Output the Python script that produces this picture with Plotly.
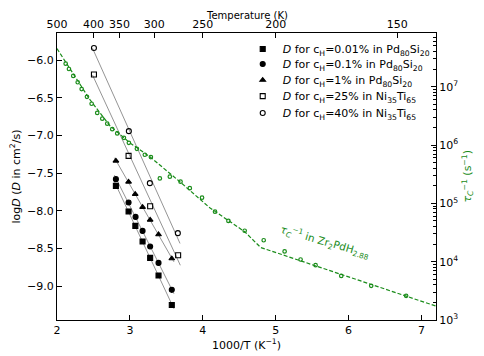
import math
import numpy as np
import plotly.graph_objects as go

# 1000/T (K^-1) and log10(D / cm^2 s^-1) for the diffusion data
x_001 = [2.808, 2.982, 3.075, 3.174, 3.278, 3.393, 3.575]
d_001 = [-7.669, -8.009, -8.201, -8.408, -8.625, -8.859, -9.250]
x_01 = [2.808, 2.982, 3.078, 3.174, 3.278, 3.393, 3.575]
d_01 = [-7.580, -7.890, -8.081, -8.267, -8.474, -8.692, -9.050]
x_1 = [2.808, 2.982, 3.073, 3.174, 3.278, 3.393, 3.575]
d_1 = [-7.337, -7.616, -7.779, -7.952, -8.121, -8.315, -8.634]
x_25 = [2.507, 2.982, 3.278, 3.662]
d_25 = [-6.19, -7.271, -7.939, -8.590]
x_40 = [2.507, 2.986, 3.274, 3.658]
d_40 = [-5.84, -6.943, -7.633, -8.297]

# tau_c^-1 (s^-1) in Zr2PdH2.88
x_tau = [2.119, 2.164, 2.223, 2.284, 2.338, 2.411, 2.475, 2.552, 2.621, 2.689,
         2.758, 2.826, 2.918, 2.986, 3.096, 3.205, 3.288, 3.411, 3.548, 3.695,
         3.822, 3.990, 4.168, 4.352, 4.575, 4.836, 5.123, 5.342, 5.548, 5.900,
         6.311, 6.790]
tau = [2.48e7, 2.01e7, 1.53e7, 1.19e7, 9.1e6, 6.7e6, 5.1e6, 3.54e6, 2.83e6, 2.32e6,
       1.87e6, 1.58e6, 1.33e6, 1.09e6, 8.6e5, 6.8e5, 6.2e5, 2.67e5, 2.86e5, 2.35e5,
       1.82e5, 1.25e5, 7.2e4, 5.0e4, 3.39e4, 2.33e4, 1.50e4, 1.09e4, 8.7e3, 5.7e3,
       3.86e3, 2.6e3]
# dashed guide through tau data
x_tau_fit = [2.0, 2.178, 2.452, 2.726, 3.0, 3.274, 3.685, 4.096, 4.575, 4.795, 7.2]
tau_fit = [4.49e7, 2.04e7, 5.98e6, 2.14e6, 1.09e6, 6.3e5, 2.35e5, 8.4e4, 3.26e4, 1.75e4, 1.73e3]

temps = [500, 400, 350, 300, 250, 200, 150]
right_ticks = [1e3, 1e4, 1e5, 1e6, 1e7]

series = [
    (x_001, d_001, "square", "0.01%", "Pd<sub>80</sub>Si<sub>20</sub>"),
    (x_01, d_01, "circle", "0.1%", "Pd<sub>80</sub>Si<sub>20</sub>"),
    (x_1, d_1, "triangle-up", "1%", "Pd<sub>80</sub>Si<sub>20</sub>"),
    (x_25, d_25, "square-open", "25%", "Ni<sub>35</sub>Ti<sub>65</sub>"),
    (x_40, d_40, "circle-open", "40%", "Ni<sub>35</sub>Ti<sub>65</sub>"),
]

GREEN = "#1a8c1a"
FONT = "DejaVu Sans"

fig = go.Figure()

for xs, ds, sym, c, host in series:
    k, b = np.polyfit(xs, ds, 1)
    xl = np.array([min(xs) - 0.02, max(xs) + 0.03])
    fig.add_trace(go.Scatter(x=xl, y=k * xl + b, mode="lines", showlegend=False,
                             line=dict(color="#666666", width=0.7)))

# one legend box per entry so the rows can be spaced like the original
legend_names = ["legend", "legend2", "legend3", "legend4", "legend5"]
for (xs, ds, sym, c, host), lg in zip(series, legend_names):
    fig.add_trace(go.Scatter(
        x=xs, y=ds, mode="markers", legend=lg,
        name="<i>D</i> for c<sub>H</sub>=" + c + " in " + host,
        marker=dict(symbol=sym, size=5, color="black",
                    line=dict(color="black", width=1.1))))

fig.add_trace(go.Scatter(x=x_tau_fit, y=tau_fit, mode="lines", yaxis="y2",
                         showlegend=False, line=dict(color=GREEN, width=1.2, dash="4px,2px")))
fig.add_trace(go.Scatter(x=x_tau, y=tau, mode="markers", yaxis="y2", showlegend=False,
                         marker=dict(symbol="circle-open", size=3.5, color=GREEN,
                                     line=dict(color=GREEN, width=1.2))))
# invisible trace so the top axis is drawn
fig.add_trace(go.Scatter(x=[2, 7.2], y=[-7, -7], xaxis="x2", mode="markers",
                         marker=dict(opacity=0), showlegend=False, hoverinfo="skip"))

fig.add_annotation(x=5.68, y=math.log10(2.2e4), xref="x", yref="y2",
                   text="<i>τ<sub>C</sub></i><sup>−1</sup> in Zr<sub>2</sub>PdH<sub>2.88</sub>",
                   showarrow=False, textangle=16, font=dict(color=GREEN, size=10.5, family=FONT))
# right axis title
fig.add_annotation(x=1, xshift=31, y=0.5, xref="paper", yref="paper", xanchor="center",
                   text="<i>τ<sub>C</sub></i><sup>−1</sup> (s<sup>−1</sup>)",
                   showarrow=False, textangle=-90, font=dict(color=GREEN, size=11, family=FONT))
# top axis title
fig.add_annotation(x=0.5, y=1, yshift=11, xref="paper", yref="paper", yanchor="bottom",
                   text="Temperature (K)", showarrow=False, borderpad=0,
                   font=dict(color="black", size=10, family=FONT))

axis_common = dict(showline=True, linecolor="black", linewidth=1.2, ticks="inside",
                   ticklen=5, tickcolor="black", showgrid=False, zeroline=False,
                   automargin=False, tickfont=dict(size=11, color="black", family=FONT))

legend_rows = [0.944, 0.892, 0.836, 0.780, 0.721]
legends = {}
for lg, yy in zip(legend_names, legend_rows):
    legends[lg] = dict(x=0.49, y=yy, xanchor="left", yanchor="middle",
                       bgcolor="rgba(0,0,0,0)", font=dict(size=11), itemwidth=30)

# page body has an 8px margin, so the figure is 8px smaller and margins shifted
fig.update_layout(
    width=476, height=348,
    margin=dict(l=49, r=48, t=25, b=36, autoexpand=False),
    paper_bgcolor="white", plot_bgcolor="white",
    font=dict(family=FONT, size=11, color="black"),
    xaxis=dict(range=[2, 7.2], tickvals=[2, 3, 4, 5, 6, 7],
               title=dict(text="1000/T (K<sup>−1</sup>)", standoff=0, font=dict(size=11)),
               **axis_common),
    xaxis2=dict(range=[2, 7.2], overlaying="x", side="top", anchor="y",
                tickvals=[1000 / t for t in temps], ticktext=[str(t) for t in temps],
                **axis_common),
    yaxis=dict(range=[-9.45, -5.64], tickvals=[-9, -8.5, -8, -7.5, -7, -6.5, -6],
               tickformat=".1f",
               title=dict(text="log<i>D</i> (<i>D</i> in cm<sup>2</sup>/s)", standoff=4,
                          font=dict(size=11)),
               **axis_common),
    yaxis2=dict(type="log", range=[3, 7.92], overlaying="y", side="right", anchor="x",
                tickvals=right_ticks, ticktext=["10<sup>%d</sup>" % round(math.log10(v)) for v in right_ticks],
                minor=dict(ticks="inside", ticklen=3, tickcolor="black", dtick="D1", showgrid=False),
                **axis_common),
    **legends,
)

fig.write_html("out.html")
